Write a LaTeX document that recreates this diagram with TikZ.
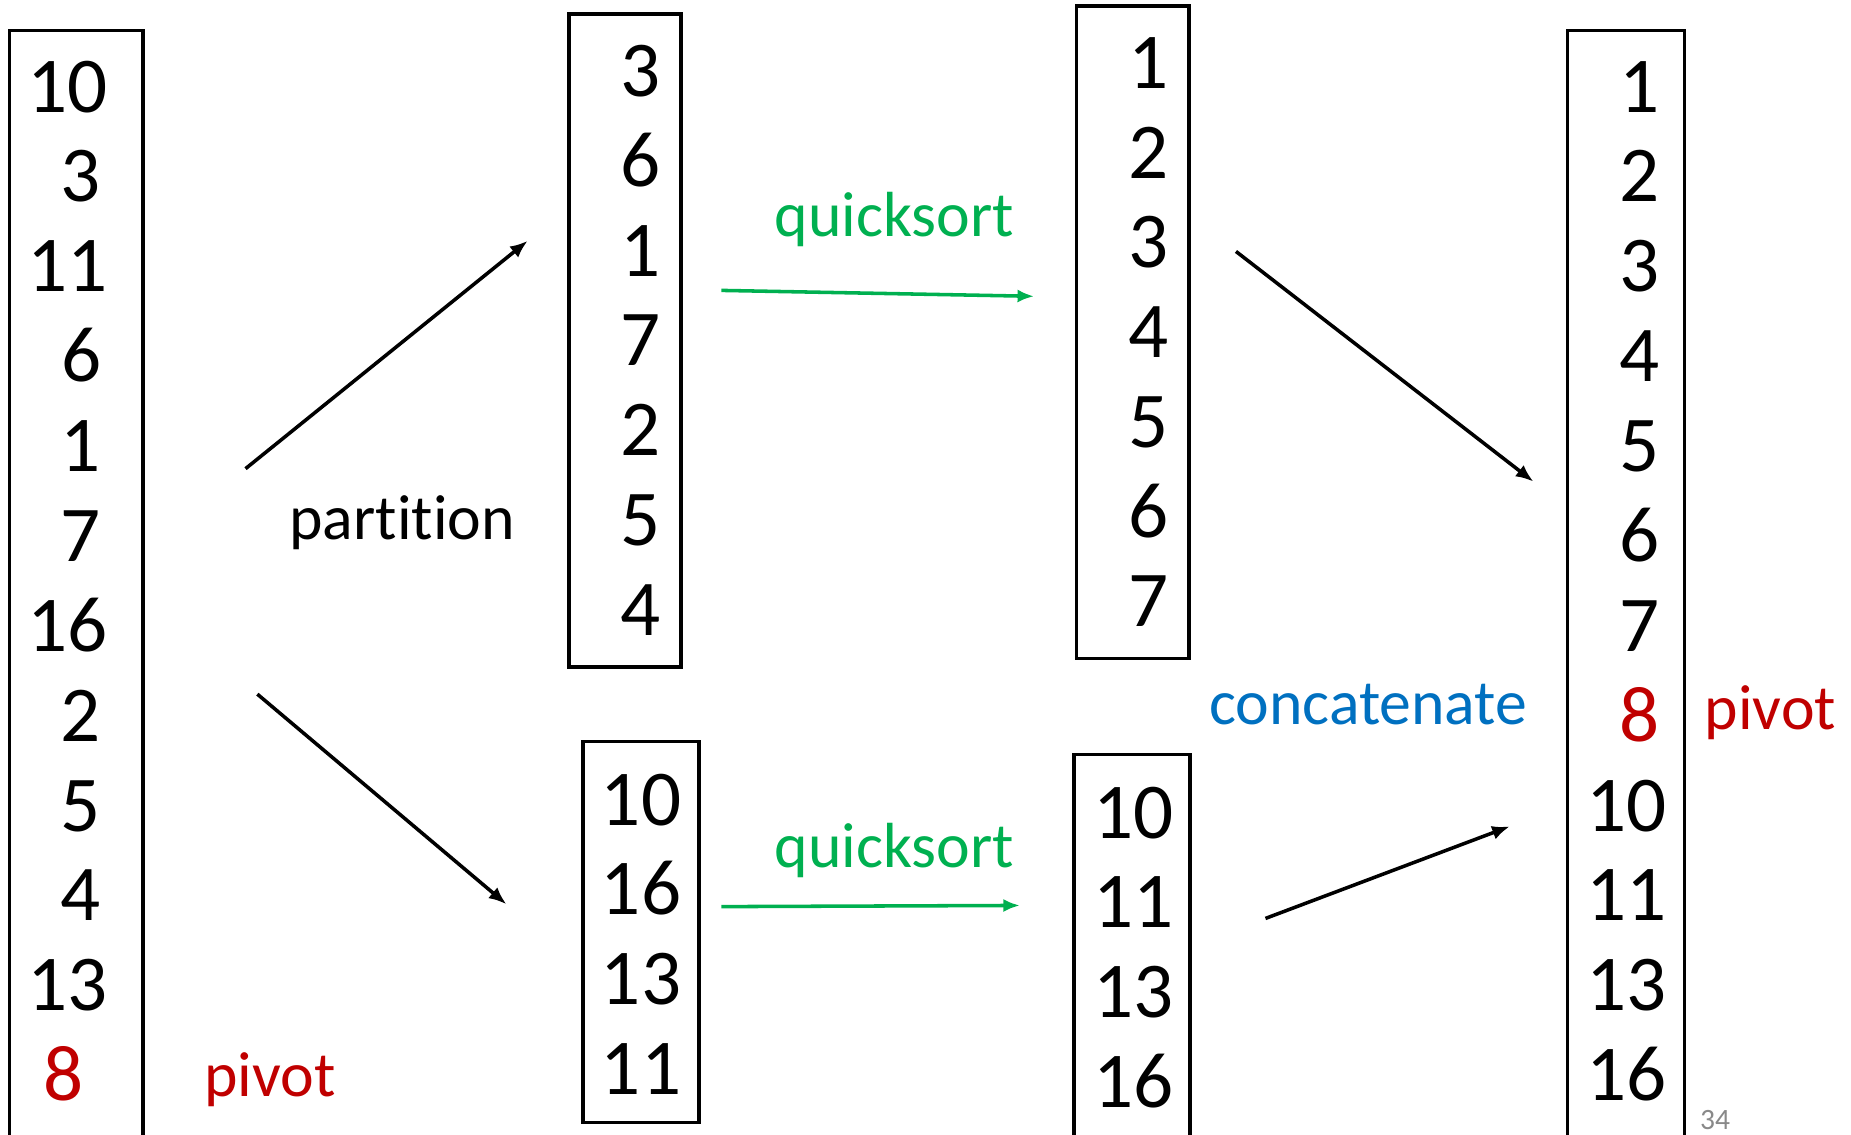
\documentclass[tikz,border=0pt]{standalone}
\usepackage{fontspec}
\setmainfont{Carlito}[Ligatures=NoCommon]
\usetikzlibrary{arrows.meta}
\definecolor{pivred}{HTML}{C00000}
\definecolor{qsgreen}{HTML}{00B050}
\definecolor{catblue}{HTML}{0070C0}
\definecolor{pagegray}{HTML}{898989}
\begin{document}
\begin{tikzpicture}[x=1pt,y=-1pt,
  listbox/.style={draw=black, line width=3pt, inner sep=0pt},
  num/.style={anchor=base, inner sep=0pt, font=\fontsize{67}{80}\selectfont},
  lbl/.style={anchor=base west, inner sep=0pt, font=\fontsize{54}{64}\selectfont},
  link/.style={-{Latex[length=15pt,width=12pt]}, line width=3pt},
  sortlink/.style={-{Latex[length=14pt,width=11pt]}, line width=3pt, draw=qsgreen}]

\useasboundingbox (0,0) rectangle (1568,961);

% list boxes
\node[listbox, minimum width=113pt, minimum height=974pt] (box1) at (64.5,513) {};
\node[listbox, minimum width=95pt, minimum height=553pt] (box2) at (529.5,288.5) {};
\node[listbox, minimum width=98pt, minimum height=323pt] (box3) at (543,789.5) {};
\node[listbox, minimum width=95pt, minimum height=553pt] (box4) at (959.5,281.5) {};
\node[listbox, minimum width=98pt, minimum height=361pt] (box5) at (959,819.5) {};
\node[listbox, minimum width=99pt, minimum height=974pt] (box6) at (1377.5,513) {};

% input list
\foreach \v/\x/\y [count=\i] in {10/57/95, 3/68/171, 11/57/247, 6/69/323, 1/68/399,
    7/68/476, 16/57/552, 2/68/628, 5/68/704, 4/68/780, 13/57/856}
  \node[num] (in\i) at (\x,\y) {\v};
\node[num, text=pivred] (inpivot) at (54,932) {8};

% left part after partition
\foreach \v/\y [count=\i] in {3/82, 6/158, 1/234, 7/310, 2/386, 5/462, 4/538}
  \node[num] (lo\i) at (543,\y) {\v};

% right part after partition
\foreach \v/\y [count=\i] in {10/699, 16/775, 13/851, 11/927}
  \node[num] (hi\i) at (543,\y) {\v};

% sorted left part
\foreach \v/\y [count=\i] in {1/75, 2/151, 3/227, 4/303, 5/379, 6/455, 7/531}
  \node[num] (slo\i) at (973,\y) {\v};

% sorted right part
\foreach \v/\y [count=\i] in {10/710, 11/786, 13/862, 16/938}
  \node[num] (shi\i) at (960,\y) {\v};

% result
\foreach \v/\x/\y [count=\i] in {1/1389/95, 2/1389/171, 3/1389/247, 4/1389/323,
    5/1389/399, 6/1389/476, 7/1389/552, 10/1378/704, 11/1378/780, 13/1378/856, 16/1378/932}
  \node[num] (out\i) at (\x,\y) {\v};
\node[num, text=pivred] (outpivot) at (1389,628) {8};

% labels
\node[lbl] (partlbl) at (245,457) {partition};
\node[lbl, text=pivred] (pivlbl1) at (173,929) {pivot};
\node[lbl, text=qsgreen] (qslbl1) at (656,200) {quicksort};
\node[lbl, text=qsgreen] (qslbl2) at (656,735) {quicksort};
\node[lbl, text=catblue] (catlbl) at (1024,614) {concatenate};
\node[lbl, text=pivred] (pivlbl2) at (1444,618) {pivot};
\node[anchor=base west, inner sep=0pt, text=pagegray, font=\fontsize{25}{30}\selectfont] (pageno) at (1440,957) {34};

% arrow end points
\coordinate (pa1) at (208,397);
\coordinate (pa2) at (447,204);
\coordinate (pb1) at (218,588);
\coordinate (pb2) at (429,766);
\coordinate (qa1) at (611,246);
\coordinate (qa2) at (876,251);
\coordinate (qb1) at (611,768);
\coordinate (qb2) at (864,767);
\coordinate (ca1) at (1047,213);
\coordinate (ca2) at (1299,408);
\coordinate (cb1) at (1072,778);
\coordinate (cb2) at (1279,700);

\draw[link] (pa1) -- (pa2);
\draw[link] (pb1) -- (pb2);
\draw[sortlink] (qa1) -- (qa2);
\draw[sortlink] (qb1) -- (qb2);
\draw[link] (ca1) -- (ca2);
\draw[link] (cb1) -- (cb2);
\end{tikzpicture}
\end{document}
